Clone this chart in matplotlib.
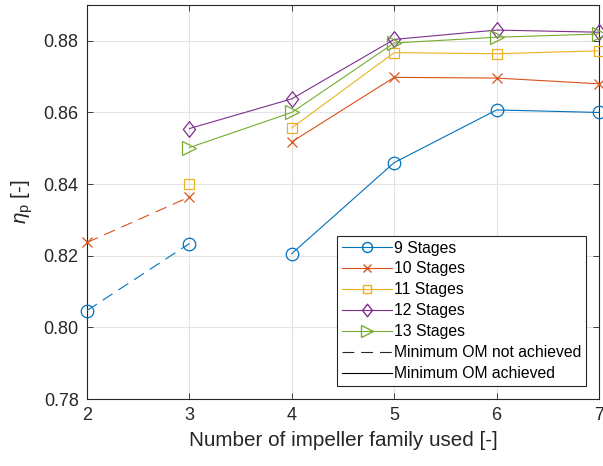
import matplotlib
matplotlib.use("Agg")
import matplotlib.pyplot as plt
from matplotlib.lines import Line2D
from matplotlib.path import Path
import numpy as np

plt.rcParams['font.family'] = ['Liberation Sans', 'DejaVu Sans']
plt.rcParams['mathtext.fontset'] = 'custom'
plt.rcParams['mathtext.rm'] = 'Liberation Sans'
plt.rcParams['mathtext.it'] = 'Liberation Sans:italic'
plt.rcParams['lines.scale_dashes'] = False

# ---- data ----
x_not = [2, 3]
x_all = [3, 4, 5, 6, 7]

s9_not = [0.8047, 0.8234]
s9_ach = [0.8206, 0.8460, 0.8607, 0.8600]       # x = 4..7

s10_not = [0.8237, 0.8364]
s10_ach = [0.8518, 0.8698, 0.8696, 0.8680]      # x = 4..7

s11_not = [0.8400]                              # x = 3
s11_ach = [0.8557, 0.8767, 0.8764, 0.8772]      # x = 4..7

s12_ach = [0.8555, 0.8638, 0.8804, 0.8830, 0.8824]  # x = 3..7
s13_ach = [0.8502, 0.8600, 0.8794, 0.8810, 0.8819]  # x = 3..7

labels = ['9 Stages', '10 Stages', '11 Stages', '12 Stages', '13 Stages']
colors = ['#0072BD', '#D95319', '#EDB120', '#7E2F8E', '#77AC30']
xticks = [2, 3, 4, 5, 6, 7]
yticks = [0.78, 0.80, 0.82, 0.84, 0.86, 0.88]

diamond = Path([(0, 1), (0.78, 0), (0, -1), (-0.78, 0), (0, 1)],
               [Path.MOVETO, Path.LINETO, Path.LINETO, Path.LINETO, Path.CLOSEPOLY])

markers = ['o', 'x', 's', diamond, '>']
msizes = [9, 6.5, 7, 11.3, 10]

fig = plt.figure(figsize=(6.03, 4.66), dpi=100)
ax = fig.add_axes([87/603, 67/466, 512/603, 394/466])

lw = 0.8
dash = (8.5, 5.0)
x_ach4 = [4, 5, 6, 7]

def plot_series(xs, ys, i, dashed=False):
    kw = dict(color=colors[i], marker=markers[i], markersize=msizes[i],
              markerfacecolor='none', markeredgecolor=colors[i],
              markeredgewidth=0.9, linewidth=lw, clip_on=False, zorder=3)
    if dashed:
        kw['dashes'] = dash
    ax.plot(xs, ys, **kw)

plot_series(x_not, s9_not, 0, dashed=True)
plot_series(x_ach4, s9_ach, 0)
plot_series(x_not, s10_not, 1, dashed=True)
plot_series(x_ach4, s10_ach, 1)
plot_series([3], s11_not, 2, dashed=True)
plot_series(x_ach4, s11_ach, 2)
plot_series(x_all, s12_ach, 3)
plot_series(x_all, s13_ach, 4)

ax.set_xlim(2, 7)
ax.set_ylim(0.78, 0.89)
ax.set_xticks(xticks)
ax.set_yticks(yticks)
ax.set_yticklabels([f'{v:.2f}' for v in yticks])
ax.grid(True, color='#e3e3e3', linewidth=0.8)
ax.set_axisbelow(True)
ax.tick_params(direction='in', top=True, right=True, length=4, width=0.6,
               colors='#262626', labelsize=13, pad=6)
for sp in ax.spines.values():
    sp.set_color('#262626')
    sp.set_linewidth(0.8)

ax.set_xlabel('Number of impeller family used [-]', fontsize=14.9, color='#262626', labelpad=5)
ax.set_ylabel(r'$\eta_\mathrm{p}$ [-]', fontsize=14.9, color='#262626', labelpad=6)

handles = []
for i in range(5):
    handles.append(Line2D([], [], color=colors[i], marker=markers[i],
                          markersize=msizes[i]*0.8, markerfacecolor='none',
                          markeredgecolor=colors[i], linewidth=lw, label=labels[i]))
handles.append(Line2D([], [], color='#262626', dashes=dash, linewidth=lw,
                      label='Minimum OM not achieved'))
handles.append(Line2D([], [], color='black', linewidth=lw, label='Minimum OM achieved'))

leg = ax.legend(handles=handles, loc='lower right', bbox_to_anchor=(0.975, 0.033),
                fontsize=11.3, frameon=True, fancybox=False, framealpha=1,
                edgecolor='#262626', handlelength=3.2, handletextpad=0.15,
                labelspacing=0.38, borderpad=0.3, borderaxespad=0)
leg.get_frame().set_linewidth(0.8)

fig.savefig('out.png', dpi=100)
